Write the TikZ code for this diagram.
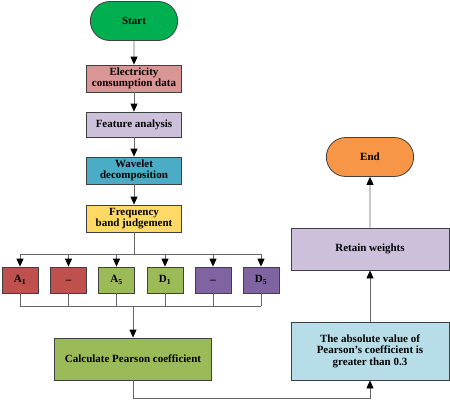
\documentclass[tikz,border=0pt]{standalone}
\usepackage{fontspec}
\setmainfont{Liberation Serif}
\usetikzlibrary{arrows.meta,shapes.misc}
\definecolor{startgreen}{HTML}{00B050}
\definecolor{elecred}{HTML}{DA9694}
\definecolor{lilac}{HTML}{CCC0DA}
\definecolor{wavecyan}{HTML}{4BACC6}
\definecolor{freqyellow}{HTML}{FFD966}
\definecolor{bandred}{HTML}{C0504D}
\definecolor{bandgreen}{HTML}{9BBB59}
\definecolor{bandpurple}{HTML}{8064A2}
\definecolor{absblue}{HTML}{B7DEE8}
\definecolor{endorange}{HTML}{F79646}
\begin{document}
\begin{tikzpicture}[x=1pt, y=-1pt, font=\fontsize{11}{11.5}\selectfont\bfseries,
    box/.style={draw=black!75, line width=0.8pt, align=center, inner sep=0.5pt},
    term/.style={rounded rectangle, draw=black!75, line width=0.8pt, minimum width=94pt, minimum height=39pt},
    band/.style={box, minimum width=36pt, minimum height=26pt},
    arr/.style={draw=black!60, line width=0.8pt, -{Triangle[black, length=8pt, width=7pt]}},
    link/.style={draw=black!60, line width=0.8pt}]
    \useasboundingbox (0,0) rectangle (450,410);
    % main column
    \node[term, fill=startgreen] (start) at (134,21) {Start};
    \node[box, fill=elecred, minimum width=95pt, minimum height=27pt] (elec) at (134,78.5) {Electricity\\consumption data};
    \node[box, fill=lilac, minimum width=95pt, minimum height=25pt] (feat) at (134,124.5) {Feature analysis};
    \node[box, fill=wavecyan, minimum width=95pt, minimum height=27pt] (wave) at (134,170.5) {Wavelet\\decomposition};
    \node[box, fill=freqyellow, minimum width=95pt, minimum height=27pt] (freq) at (134,218.5) {Frequency\\band judgement};
    \draw[arr] (start) -- (elec);
    \draw[arr] (elec) -- (feat);
    \draw[arr] (feat) -- (wave);
    \draw[arr] (wave) -- (freq);
    % frequency bands
    \node[band, fill=bandred] (a1) at (20,280) {A\textsubscript{1}};
    \node[band, fill=bandred] (a2) at (68.5,280) {\textunderscore};
    \node[band, fill=bandgreen] (a5) at (116.5,280) {A\textsubscript{5}};
    \node[band, fill=bandgreen] (d1) at (165,280) {D\textsubscript{1}};
    \node[band, fill=bandpurple] (d2) at (213,280) {\textunderscore};
    \node[band, fill=bandpurple] (d5) at (261,280) {D\textsubscript{5}};
    \coordinate (bustop) at (134,254);
    \coordinate (busbot) at (133,306);
    \draw[link] (freq) -- (bustop);
    \draw[link] (a1 |- bustop) -- (d5 |- bustop);
    \draw[link] (a1 |- busbot) -- (d5 |- busbot);
    \foreach \b in {a1,a2,a5,d1,d2,d5} {
        \draw[arr] (\b |- bustop) -- (\b);
        \draw[link] (\b) -- (\b |- busbot);
    }
    \node[box, fill=bandgreen, minimum width=157pt, minimum height=42pt] (calc) at (133,359) {Calculate Pearson coefficient};
    \draw[arr] (busbot) -- (calc);
    % right column
    \node[box, fill=absblue, minimum width=158pt, minimum height=58pt] (abs) at (370,351) {The absolute value of\\Pearson's coefficient is\\greater than 0.3};
    \node[box, fill=lilac, minimum width=158pt, minimum height=42pt] (retain) at (370,249) {Retain weights};
    \node[term, fill=endorange] (end) at (370,157) {End};
    \draw[arr] (calc.south) -- ++(0,18) -| (abs.south);
    \draw[arr] (abs) -- (retain);
    \draw[arr] (retain) -- (end);
\end{tikzpicture}
\end{document}
